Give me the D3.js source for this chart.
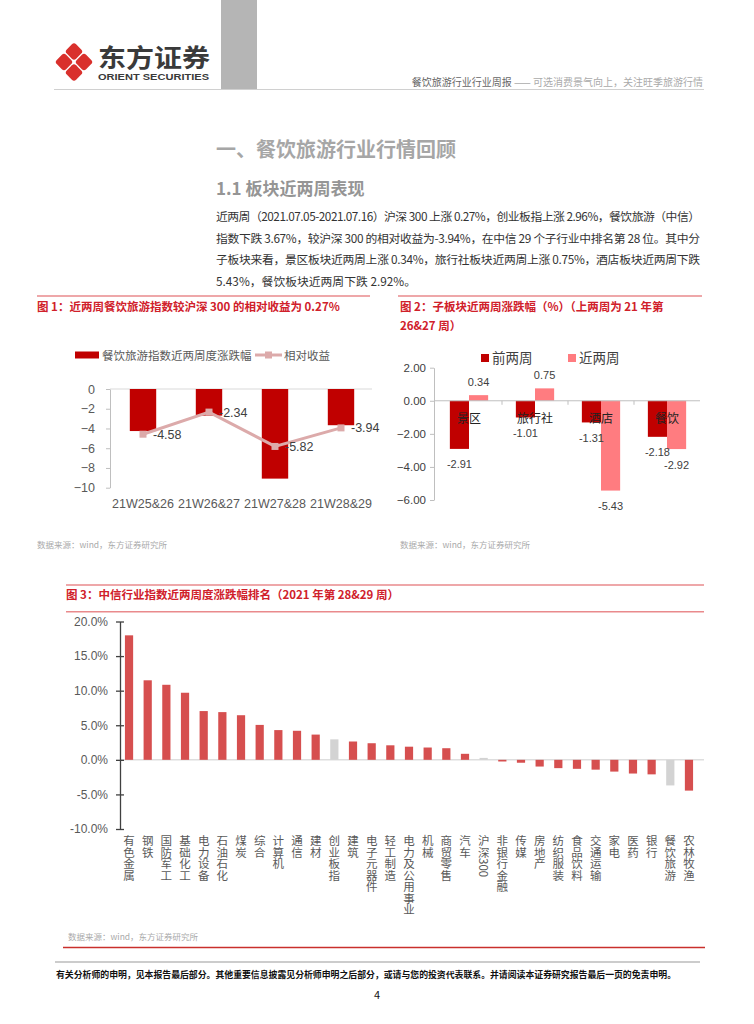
<!DOCTYPE html>
<html>
<head>
<meta charset="utf-8">
<script src="https://cdn.jsdelivr.net/npm/d3@7"></script>
<style>
  body { margin: 0; background: #fff; }
  text { font-family: "Noto Sans CJK SC", "Liberation Sans", sans-serif; }
  .num { font-family: "Liberation Sans", "Noto Sans CJK SC", sans-serif; }
</style>
</head>
<body>
<script>
// ---- data ----
const fig1Weeks = ['21W25&26', '21W26&27', '21W27&28', '21W28&29'];
const fig1Index = [-4.26, -2.7, -9.08, -3.67];
const fig1Relative = [-4.58, -2.34, -5.82, -3.94];
const fig1Ticks = [0, -2, -4, -6, -8, -10];

const fig2Sectors = ['景区', '旅行社', '酒店', '餐饮'];
const fig2Prev = [-2.91, -1.01, -1.31, -2.18];
const fig2Recent = [0.34, 0.75, -5.43, -2.92];
const fig2Ticks = [2, 0, -2, -4, -6];

const fig3Names = ['有色金属', '钢铁', '国防军工', '基础化工', '电力设备', '石油石化', '煤炭', '综合',
  '计算机', '通信', '建材', '创业板指', '建筑', '电子元器件', '轻工制造', '电力及公用事业', '机械',
  '商贸零售', '汽车', '沪深300', '非银行金融', '传媒', '房地产', '纺织服装', '食品饮料', '交通运输',
  '家电', '医药', '银行', '餐饮旅游', '农林牧渔'];
const fig3Values = [18.0, 11.5, 10.85, 9.7, 7.05, 6.9, 6.45, 5.05, 4.3, 4.2, 3.65, 2.96, 2.65, 2.4,
  2.1, 1.9, 1.78, 1.68, 0.87, 0.28, -0.24, -0.42, -0.97, -1.2, -1.3, -1.42, -1.7, -1.98, -2.1, -3.7, -4.45];
const fig3Gray = ['创业板指', '沪深300', '餐饮旅游'];
const fig3Ticks = [20, 15, 10, 5, 0, -5, -10];

const para = [
  '近两周（2021.07.05-2021.07.16）沪深 300 上涨 0.27%，创业板指上涨 2.96%，餐饮旅游（中信）',
  '指数下跌 3.67%，较沪深 300 的相对收益为-3.94%，在中信 29 个子行业中排名第 28 位。其中分',
  '子板块来看，景区板块近两周上涨 0.34%，旅行社板块近两周上涨 0.75%，酒店板块近两周下跌',
  '5.43%，餐饮板块近两周下跌 2.92%。'
];

const RED = '#c00000';
const TITLE_RED = '#d0202a';
const RULE = '#e98a8c';

const svg = d3.select('body').append('svg')
  .attr('width', 754).attr('height', 1024);

// ---- page header ----
svg.append('rect').attr('x', 221).attr('y', 0).attr('width', 36).attr('height', 89).attr('fill', '#b5b5b5');
svg.append('line').attr('x1', 54).attr('x2', 704).attr('y1', 89.5).attr('y2', 89.5)
  .attr('stroke', '#d0d0d0').attr('stroke-width', 1.2);

const logo = svg.append('g').attr('transform', 'translate(74,62)');
[[0, -10.5], [10, 0], [0, 10.5], [-10, 0]].forEach(p => {
  logo.append('rect')
    .attr('x', -6.6).attr('y', -6.6).attr('width', 13.2).attr('height', 13.2).attr('rx', 3)
    .attr('fill', '#d9302c')
    .attr('transform', `translate(${p[0]},${p[1]}) rotate(45)`);
});
svg.append('text').attr('x', 98).attr('y', 67).attr('font-size', 25).attr('font-weight', 'bold')
  .attr('fill', '#3a3a3a').attr('textLength', 112).attr('lengthAdjust', 'spacingAndGlyphs').text('东方证券');
svg.append('text').attr('x', 98).attr('y', 80).attr('font-size', 8.5).attr('font-weight', 'bold')
  .attr('class', 'num').attr('fill', '#3a3a3a').attr('textLength', 111).attr('lengthAdjust', 'spacingAndGlyphs')
  .text('ORIENT SECURITIES');

const hdr = svg.append('text').attr('x', 703).attr('y', 85.5).attr('font-size', 10).attr('text-anchor', 'end');
hdr.append('tspan').attr('fill', '#666').text('餐饮旅游行业行业周报');
hdr.append('tspan').attr('fill', '#aaa').text(' —— 可选消费景气向上，关注旺季旅游行情');

// ---- section title and text ----
svg.append('text').attr('x', 216).attr('y', 157).attr('font-size', 20).attr('font-weight', 'bold')
  .attr('fill', '#a6a6a6').text('一、餐饮旅游行业行情回顾');
svg.append('text').attr('x', 216).attr('y', 195).attr('font-size', 17).attr('font-weight', 'bold')
  .attr('fill', '#959595').text('1.1 板块近两周表现');

para.forEach((s, i) => {
  const t = svg.append('text').attr('x', 216).attr('y', 221 + i * 21.5).attr('font-size', 11.8)
    .attr('fill', '#333').text(s);
  if (i < 3) t.attr('textLength', 484).attr('lengthAdjust', 'spacing');
});

// ---- figure 1 ----
svg.append('line').attr('x1', 37).attr('x2', 370).attr('y1', 296).attr('y2', 296)
  .attr('stroke', RULE).attr('stroke-width', 1.5);
svg.append('text').attr('x', 37).attr('y', 311).attr('font-size', 11.5).attr('font-weight', 'bold')
  .attr('fill', TITLE_RED).text('图 1：近两周餐饮旅游指数较沪深 300 的相对收益为 0.27%');

const x1 = d3.scaleBand().domain(fig1Weeks).range([110, 374]).paddingInner(0.6).paddingOuter(0.3);
const y1 = d3.scaleLinear().domain([-10, 0]).range([487.7, 389]);

svg.append('line').attr('x1', 110).attr('x2', 372).attr('y1', y1(0)).attr('y2', y1(0))
  .attr('stroke', '#d9d9d9');
const ax1 = svg.append('g').attr('transform', 'translate(110,0)')
  .call(d3.axisLeft(y1).tickValues(fig1Ticks).tickSize(4).tickSizeOuter(0).tickPadding(11));
ax1.select('.domain').attr('stroke', '#bfbfbf');
ax1.selectAll('.tick line').attr('stroke', '#bfbfbf');
ax1.selectAll('.tick text').attr('font-size', 12.5).attr('fill', '#595959').attr('class', 'num');

svg.append('g').selectAll('rect').data(fig1Index).join('rect')
  .attr('x', (d, i) => x1(fig1Weeks[i])).attr('width', x1.bandwidth())
  .attr('y', y1(0)).attr('height', d => y1(d) - y1(0)).attr('fill', RED);

const line1 = d3.line().x((d, i) => x1(fig1Weeks[i]) + x1.bandwidth() / 2).y(d => y1(d));
svg.append('path').datum(fig1Relative).attr('d', line1).attr('fill', 'none')
  .attr('stroke', '#dcaaaa').attr('stroke-width', 3);
svg.append('g').selectAll('rect').data(fig1Relative).join('rect')
  .attr('x', (d, i) => x1(fig1Weeks[i]) + x1.bandwidth() / 2 - 3.5).attr('y', d => y1(d) - 3.5)
  .attr('width', 7).attr('height', 7).attr('fill', '#dcaaaa');
svg.append('g').selectAll('text').data(fig1Relative).join('text')
  .attr('class', 'num')
  .attr('x', (d, i) => x1(fig1Weeks[i]) + x1.bandwidth() / 2 + 10).attr('y', d => y1(d) + 4.5)
  .attr('font-size', 12.5).attr('fill', '#404040').text(d => d.toFixed(2));

svg.append('g').selectAll('text').data(fig1Weeks).join('text')
  .attr('class', 'num')
  .attr('x', d => x1(d) + x1.bandwidth() / 2).attr('y', 507.5).attr('text-anchor', 'middle')
  .attr('font-size', 12.5).attr('fill', '#595959').text(d => d);

// legend
svg.append('rect').attr('x', 75).attr('y', 351.5).attr('width', 24).attr('height', 7).attr('fill', RED);
svg.append('text').attr('x', 102).attr('y', 359.5).attr('font-size', 11.5).attr('fill', '#595959')
  .text('餐饮旅游指数近两周度涨跌幅');
svg.append('line').attr('x1', 255).attr('x2', 282).attr('y1', 355).attr('y2', 355)
  .attr('stroke', '#dcaaaa').attr('stroke-width', 3);
svg.append('rect').attr('x', 265).attr('y', 351.5).attr('width', 7).attr('height', 7).attr('fill', '#dcaaaa');
svg.append('text').attr('x', 284).attr('y', 359.5).attr('font-size', 11.5).attr('fill', '#595959')
  .text('相对收益');

svg.append('text').attr('x', 37).attr('y', 548).attr('font-size', 8.5).attr('fill', '#aaa')
  .text('数据来源：wind，东方证券研究所');

// ---- figure 2 ----
svg.append('line').attr('x1', 398).attr('x2', 702).attr('y1', 296).attr('y2', 296)
  .attr('stroke', RULE).attr('stroke-width', 1.5);
svg.append('text').attr('x', 400).attr('y', 311).attr('font-size', 11.5).attr('font-weight', 'bold')
  .attr('fill', TITLE_RED).text('图 2：子板块近两周涨跌幅（%）（上两周为 21 年第');
svg.append('text').attr('x', 400).attr('y', 330).attr('font-size', 11.5).attr('font-weight', 'bold')
  .attr('fill', TITLE_RED).text('26&27 周）');

const x2 = d3.scaleBand().domain(fig2Sectors).range([436, 700]).paddingInner(0.42).paddingOuter(0.21);
const x2in = d3.scaleBand().domain(['prev', 'recent']).range([0, x2.bandwidth()]);
const y2 = d3.scaleLinear().domain([-6, 2]).range([500, 367.7]);
const c2 = { prev: RED, recent: '#ff7c80' };

const ax2 = svg.append('g').attr('transform', 'translate(434,0)')
  .call(d3.axisLeft(y2).tickValues(fig2Ticks).tickSize(4).tickSizeOuter(0).tickPadding(4)
    .tickFormat(d3.format('.2f')));
ax2.select('.domain').attr('stroke', '#bfbfbf');
ax2.selectAll('.tick line').attr('stroke', '#bfbfbf');
ax2.selectAll('.tick text').attr('font-size', 11.5).attr('fill', '#404040').attr('class', 'num');

const rows2 = fig2Sectors.map((s, i) => ({ s, prev: fig2Prev[i], recent: fig2Recent[i] }));
const g2 = svg.append('g').selectAll('g').data(rows2).join('g')
  .attr('transform', d => `translate(${x2(d.s)},0)`);
['prev', 'recent'].forEach(k => {
  g2.append('rect')
    .attr('x', x2in(k)).attr('width', x2in.bandwidth())
    .attr('y', d => y2(Math.max(0, d[k]))).attr('height', d => Math.abs(y2(d[k]) - y2(0)))
    .attr('fill', c2[k]);
});
svg.append('line').attr('x1', 434).attr('x2', 700).attr('y1', y2(0)).attr('y2', y2(0))
  .attr('stroke', '#bfbfbf');
svg.append('g').selectAll('line').data(fig2Sectors.slice(1)).join('line')
  .attr('x1', d => x2(d) - x2.step() * x2.paddingInner() / 2)
  .attr('x2', d => x2(d) - x2.step() * x2.paddingInner() / 2)
  .attr('y1', y2(0)).attr('y2', y2(0) + 4).attr('stroke', '#bfbfbf');
['prev', 'recent'].forEach(k => {
  g2.append('text').attr('class', 'num')
    .attr('x', x2in(k) + x2in.bandwidth() / 2)
    .attr('y', d => d[k] >= 0 ? y2(d[k]) - 9 : y2(d[k]) + 19.5)
    .attr('text-anchor', 'middle').attr('font-size', 11).attr('fill', '#404040')
    .text(d => d[k].toFixed(2));
});
g2.append('text').attr('x', x2.bandwidth() / 2).attr('y', 422.5).attr('text-anchor', 'middle')
  .attr('font-size', 12).attr('fill', '#222').text(d => d.s);

// legend
svg.append('rect').attr('x', 481).attr('y', 354).attr('width', 8).attr('height', 8).attr('fill', RED);
svg.append('text').attr('x', 492).attr('y', 363).attr('font-size', 13.5).attr('fill', '#404040').text('前两周');
svg.append('rect').attr('x', 568).attr('y', 354).attr('width', 8).attr('height', 8).attr('fill', '#ff7c80');
svg.append('text').attr('x', 579).attr('y', 363).attr('font-size', 13.5).attr('fill', '#404040').text('近两周');

svg.append('text').attr('x', 400).attr('y', 548).attr('font-size', 8.5).attr('fill', '#aaa')
  .text('数据来源：wind，东方证券研究所');

// ---- figure 3 ----
svg.append('line').attr('x1', 66).attr('x2', 704).attr('y1', 585).attr('y2', 585)
  .attr('stroke', RULE).attr('stroke-width', 1.5);
svg.append('text').attr('x', 66).attr('y', 599).attr('font-size', 11.5).attr('font-weight', 'bold')
  .attr('fill', TITLE_RED).text('图 3：中信行业指数近两周度涨跌幅排名（2021 年第 28&29 周）');
svg.append('line').attr('x1', 66).attr('x2', 704).attr('y1', 611.7).attr('y2', 611.7)
  .attr('stroke', RULE).attr('stroke-width', 1.5);

const x3 = d3.scaleBand().domain(fig3Names).range([119.7, 698.3]).paddingInner(0.56).paddingOuter(0.28);
const y3 = d3.scaleLinear().domain([-10, 20]).range([829, 621.5]);

svg.append('line').attr('x1', 120).attr('x2', 704).attr('y1', y3(0)).attr('y2', y3(0))
  .attr('stroke', '#dedede').attr('stroke-width', 1.5);
svg.append('g').selectAll('rect').data(fig3Values).join('rect')
  .attr('x', (d, i) => x3(fig3Names[i])).attr('width', x3.bandwidth())
  .attr('y', d => y3(Math.max(0, d))).attr('height', d => Math.abs(y3(d) - y3(0)))
  .attr('fill', (d, i) => fig3Gray.includes(fig3Names[i]) ? '#d3d3d3' : '#d64f4f');

const ax3 = svg.append('g').attr('transform', 'translate(120,0)')
  .call(d3.axisLeft(y3).tickValues(fig3Ticks).tickSize(4).tickSizeOuter(0).tickPadding(8)
    .tickFormat(d => d.toFixed(1) + '%'));
ax3.select('.domain').attr('stroke', '#404040').attr('stroke-width', 1.3);
ax3.selectAll('.tick line').attr('x1', -4).attr('x2', 4).attr('stroke', '#404040').attr('stroke-width', 1.3);
ax3.selectAll('.tick text').attr('font-size', 12).attr('fill', '#595959').attr('class', 'num');

// vertical category labels (upright CJK, latin turned)
svg.append('g').selectAll('text').data(fig3Names).join('text')
  .attr('x', d => x3(d) + x3.bandwidth() / 2).attr('y', 835)
  .attr('font-size', 11.5).attr('fill', '#595959')
  .style('writing-mode', 'vertical-rl')
  .text(d => d);

svg.append('text').attr('x', 68).attr('y', 940).attr('font-size', 8.5).attr('fill', '#aaa')
  .text('数据来源：wind，东方证券研究所');
svg.append('line').attr('x1', 63).attr('x2', 705).attr('y1', 947.5).attr('y2', 947.5)
  .attr('stroke', '#c9302c').attr('stroke-width', 1.5);

// ---- page footer ----
svg.append('line').attr('x1', 55).attr('x2', 700).attr('y1', 962).attr('y2', 962)
  .attr('stroke', '#999').attr('stroke-width', 1.2);
svg.append('text').attr('x', 56).attr('y', 977.5).attr('font-size', 8.8).attr('font-weight', 'bold')
  .attr('fill', '#111').attr('textLength', 620).attr('lengthAdjust', 'spacingAndGlyphs')
  .text('有关分析师的申明，见本报告最后部分。其他重要信息披露见分析师申明之后部分，或请与您的投资代表联系。并请阅读本证券研究报告最后一页的免责申明。');
svg.append('text').attr('x', 377).attr('y', 999).attr('font-size', 11).attr('text-anchor', 'middle')
  .attr('font-family', 'Liberation Serif').attr('fill', '#111').text('4');
</script>
</body>
</html>
